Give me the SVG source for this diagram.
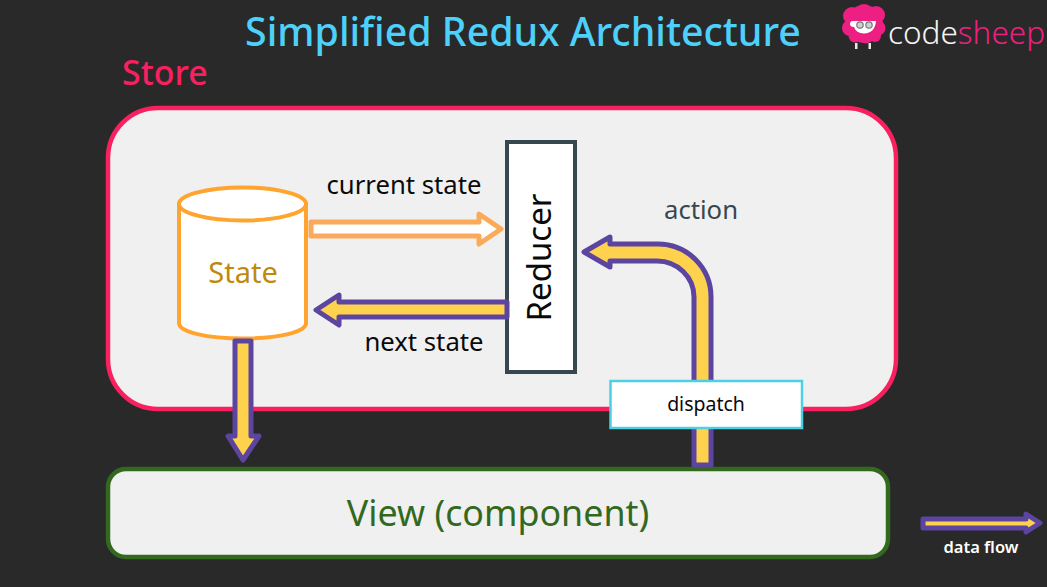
<svg xmlns="http://www.w3.org/2000/svg" width="1047" height="587" viewBox="0 0 1047 587">
<style>
text{font-family:"Noto Sans","Open Sans","Liberation Sans",sans-serif;font-weight:400}
.flow{fill:#ffd24d;stroke:#5c45a0;stroke-width:5;stroke-linejoin:round}
.box{fill:#f0f0f0}
.mid{text-anchor:middle}
.lbl{font-size:25.700px;fill:#0a0a0a}
.med{font-weight:500}
.pink{fill:#ee1f82}
</style>
<rect width="1047" height="587" fill="#292929"/>
<text id="title" x="523" y="46" class="mid med" font-size="39.300" fill="#4dd0fa">Simplified Redux Architecture</text>
<g id="logo">
<g class="pink">
<circle cx="864" cy="24" r="19"/><circle cx="852" cy="16" r="9"/><circle cx="864" cy="12" r="8"/><circle cx="876" cy="15" r="9"/><circle cx="850" cy="28" r="8"/><circle cx="878" cy="28" r="7.500"/><circle cx="855" cy="36" r="6.500"/><circle cx="866" cy="37" r="6.500"/><circle cx="875" cy="36" r="6"/>
</g>
<rect x="855" y="43" width="2.500" height="6" fill="#e8e8e8"/><rect x="868.500" y="43" width="2.500" height="6" fill="#e8e8e8"/>
<path d="M853 21H876Q875 33 864 33.500Q856 33 854 27Q850 27 850 24Q850 21 853 21Z" fill="#fff"/>
<circle cx="860" cy="25" r="3.200" fill="#cfcfcf" stroke="#777" stroke-width="1.200"/><circle cx="869" cy="25" r="3.200" fill="#cfcfcf" stroke="#777" stroke-width="1.200"/>
<text x="888" y="44" font-size="31.500" style="font-weight:300" fill="#f4f4f4">code<tspan class="pink">sheep</tspan></text>
</g>
<text id="store-label" x="122" y="85" class="med" font-size="34" fill="#f9205f">Store</text>
<g id="store"><rect x="108" y="108" width="788" height="301" rx="50" class="box" stroke="#f9205f" stroke-width="4.500"/></g>
<g id="state">
<path d="M179 204V323C179 332 207 338.500 243 338.500S306 332 306 323V204Z" fill="#fff" stroke="#ffa42e" stroke-width="4"/>
<ellipse cx="242.500" cy="204" rx="63.500" ry="16.500" fill="#fff" stroke="#ffa42e" stroke-width="4"/>
<text x="243" y="283" class="mid" font-size="29" fill="#bf8a0c">State</text>
</g>
<g id="reducer">
<rect x="507" y="142" width="68" height="230" fill="#fff" stroke="#37474f" stroke-width="4"/>
<text transform="translate(551 257.500) rotate(-90)" class="mid" font-size="33" fill="#0a0a0a">Reducer</text>
</g>
<g id="view">
<rect x="108" y="469" width="780" height="88" rx="18" class="box" stroke="#33691e" stroke-width="4.500"/>
<text x="498" y="526" class="mid" font-size="35.800" fill="#33691e">View (component)</text>
</g>
<g id="connectors">
<path d="M311 222H479V214L501 229L479 244V236H311Z" fill="#fff" stroke="#fbaa5a" stroke-width="5" stroke-linejoin="round"/>
<path class="flow" d="M507 302H339V295L316 310L339 325V317H507Z"/>
<path class="flow" d="M235 341H251V436H259L243 460L228 436H235Z"/>
<path class="flow" d="M584 252L610 237V244H658A53 53 0 0 1 711 297V465H694V297A37 36 0 0 0 657 261H610V267Z"/>
<path class="flow" d="M923 519H1026V514L1040 523L1026 532V528H923Z"/>
</g>
<g id="dispatch">
<rect x="610.500" y="381" width="191.500" height="47" fill="#fff" stroke="#4dd0e1" stroke-width="2.500"/>
<text x="706" y="411" class="mid" font-size="19.500" fill="#0a0a0a">dispatch</text>
</g>
<text x="404" y="194" class="mid lbl">current state</text>
<text x="424" y="351" class="mid lbl">next state</text>
<text x="701" y="219" class="mid lbl" style="fill:#37474f">action</text>
<text x="981" y="553" class="mid" font-size="16.500" style="font-weight:600" fill="#fff">data flow</text>
</svg>
